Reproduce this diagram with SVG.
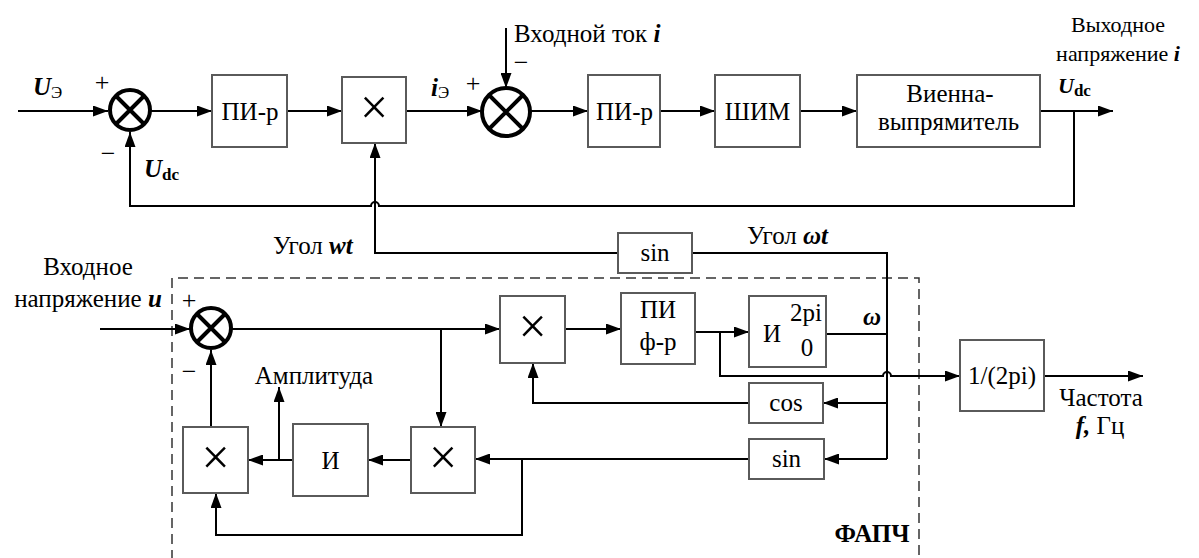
<svg xmlns="http://www.w3.org/2000/svg" width="1199" height="558" viewBox="0 0 1199 558">
<style>
text{font-family:'Liberation Serif','Times New Roman',serif;font-size:25px;fill:#000}
.c{text-anchor:middle}
.tr{font-size:22px}
.bi{font-weight:bold;font-style:italic}
.sub{font-size:17px;font-style:normal;font-weight:normal}
.subb{font-size:17px;font-style:normal;font-weight:bold}
.x{font-size:50px;text-anchor:middle}
.pm{font-size:26px;text-anchor:middle}
.box{fill:#fff;stroke:#5a5a5a;stroke-width:2}
.sum{fill:#fff;stroke:#000;stroke-width:4}
.sumx{stroke:#000;stroke-width:4}
.ln{fill:none;stroke:#000;stroke-width:2}
.ar{fill:none;stroke:#000;stroke-width:2;marker-end:url(#ah)}
.dash{fill:none;stroke:#333;stroke-width:1.5;stroke-dasharray:10 6}
</style>
<defs>
<marker id="ah" markerUnits="userSpaceOnUse" markerWidth="15" markerHeight="11" refX="15" refY="5.5" orient="auto">
<path d="M0,0 L15,5.5 L0,11 z" fill="#000"/>
</marker>
</defs>
<rect width="1199" height="558" fill="#fff"/>

<g id="pll-frame">
<path class="dash" d="M172,560 V278 H919 V560"/>
<text x="872" y="542" class="c" font-weight="bold">ФАПЧ</text>
</g>

<g id="connectors">
<path class="ar" d="M18,111 H108"/>
<path class="ar" d="M150,111 H212"/>
<path class="ar" d="M287,111 H342"/>
<path class="ar" d="M406,111 H482"/>
<path class="ar" d="M506,28 V88"/>
<path class="ar" d="M530,111 H588"/>
<path class="ar" d="M660,111 H715"/>
<path class="ar" d="M800,111 H857"/>
<path class="ar" d="M1040,111 H1113"/>
<path class="ar" d="M1074,111 V206 H379 A4,4 0 0 0 371,206 H130 V132"/>
<path class="ar" d="M618,253 H375 V143"/>
<path class="ln" d="M692,253 H887 V459"/>
<path class="ar" d="M887,403 H823"/>
<path class="ar" d="M887,459 H824"/>
<path class="ar" d="M100,329 H190"/>
<path class="ar" d="M231,329 H500"/>
<path class="ar" d="M441,329 V427"/>
<path class="ar" d="M565,329 H621"/>
<path class="ar" d="M695,332 H749"/>
<path class="ar" d="M720,332 V376 H883 A4,4 0 0 1 891,376 H960"/>
<path class="ln" d="M826,334 H887"/>
<path class="ar" d="M749,403 H533 V363"/>
<path class="ar" d="M1044,376 H1143"/>
<path class="ar" d="M749,459 H475"/>
<path class="ar" d="M522,459 V535 H216 V493"/>
<path class="ar" d="M411,460 H368"/>
<path class="ar" d="M293,460 H248"/>
<path class="ar" d="M279,460 V387"/>
<path class="ar" d="M211,427 V350"/>
</g>

<g id="sum1">
<circle class="sum" cx="130" cy="110" r="20"/>
<path class="sumx" d="M116,96 L144,124 M144,96 L116,124"/>
<text x="102" y="91" class="pm">+</text>
<text x="108" y="162" class="pm">−</text>
</g>
<g id="sum2">
<circle class="sum" cx="506" cy="112" r="24"/>
<path class="sumx" d="M489,95 L523,129 M523,95 L489,129"/>
<text x="473" y="92" class="pm">+</text>
<text x="521" y="71" class="pm">−</text>
</g>
<g id="sum3">
<circle class="sum" cx="211" cy="328" r="20"/>
<path class="sumx" d="M197,314 L225,342 M225,314 L197,342"/>
<text x="189" y="309" class="pm">+</text>
<text x="189" y="380" class="pm">−</text>
</g>

<g id="pi1"><rect class="box" x="212" y="75" width="75" height="72"/><text x="250" y="120" class="c">ПИ-р</text></g>
<g id="mul-top"><rect class="box" x="342" y="77" width="64" height="66"/><text x="374" y="124" class="x">×</text></g>
<g id="pi2"><rect class="box" x="588" y="75" width="72" height="72"/><text x="624.5" y="120" class="c">ПИ-р</text></g>
<g id="pwm"><rect class="box" x="715" y="75" width="85" height="72"/><text x="757.5" y="120" class="c">ШИМ</text></g>
<g id="vienna"><rect class="box" x="857" y="75" width="183" height="72"/><text x="950" y="102" class="c">Виенна-</text><text x="948.5" y="130" class="c">выпрямитель</text></g>

<g id="sin-top"><rect class="box" x="618" y="233" width="74" height="40"/><text x="655" y="261" class="c">sin</text></g>
<g id="mul-pll"><rect class="box" x="500" y="296" width="65" height="67"/><text x="532.5" y="343" class="x">×</text></g>
<g id="pi-pll"><rect class="box" x="621" y="293" width="74" height="71"/><text x="658" y="318" class="c">ПИ</text><text x="658" y="350" class="c">ф-р</text></g>
<g id="int-pll"><rect class="box" x="749" y="296" width="77" height="71"/><text x="772" y="342" class="c">И</text><text x="806" y="321" class="c">2pi</text><text x="807" y="356" class="c">0</text></g>
<g id="cos"><rect class="box" x="749" y="383" width="74" height="40"/><text x="786" y="411" class="c">cos</text></g>
<g id="sin-low"><rect class="box" x="749" y="439" width="75" height="40"/><text x="786.5" y="467" class="c">sin</text></g>
<g id="mul-low"><rect class="box" x="411" y="427" width="64" height="66"/><text x="443" y="474" class="x">×</text></g>
<g id="int-low"><rect class="box" x="293" y="424" width="75" height="72"/><text x="330.5" y="469" class="c">И</text></g>
<g id="mul-left"><rect class="box" x="183" y="427" width="65" height="66"/><text x="215.5" y="474" class="x">×</text></g>
<g id="freq"><rect class="box" x="960" y="340" width="84" height="71"/><text x="1002" y="384" class="c">1/(2pi)</text></g>

<g id="labels">
<text x="33" y="95" class="bi">U<tspan class="sub" dy="3">Э</tspan></text>
<text x="144" y="177" class="bi">U<tspan class="subb" dy="3">dc</tspan></text>
<text x="431" y="96" class="bi">i<tspan class="sub" dy="2">Э</tspan></text>
<text x="514" y="42">Входной ток <tspan class="bi">i</tspan></text>
<text x="1118" y="32" class="c tr">Выходное</text>
<text x="1118" y="61" class="c tr">напряжение <tspan class="bi">i</tspan></text>
<text x="1058" y="93" class="bi tr">U<tspan class="subb" dy="3">dc</tspan></text>
<text x="273" y="254">Угол <tspan class="bi">wt</tspan></text>
<text x="747" y="244">Угол <tspan class="bi">ωt</tspan></text>
<text x="88" y="275" class="c">Входное</text>
<text x="88" y="307" class="c">напряжение <tspan class="bi">u</tspan></text>
<text x="314" y="384" class="c">Амплитуда</text>
<text x="863" y="325" class="bi">ω</text>
<text x="1101" y="406" class="c">Частота</text>
<text x="1100" y="434" class="c"><tspan class="bi">f,</tspan> Гц</text>
</g>
</svg>
